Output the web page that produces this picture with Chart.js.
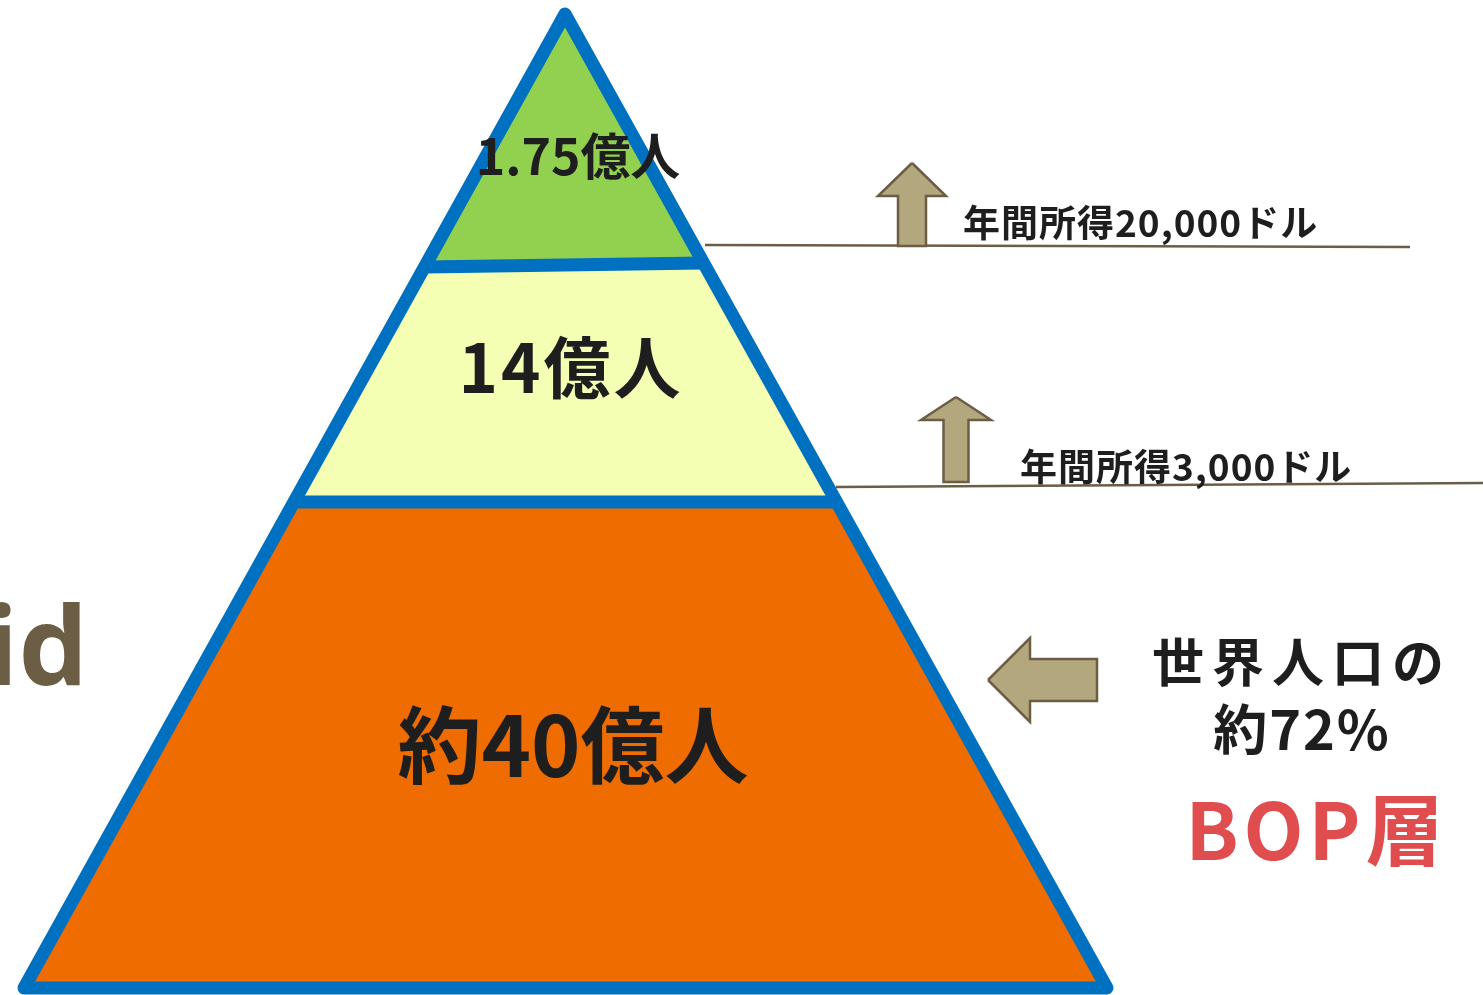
<!DOCTYPE html>
<html lang="ja">
<head>
<meta charset="utf-8">
<title>BOP pyramid</title>
<script src="https://cdn.jsdelivr.net/npm/chart.js@4.4.1/dist/chart.umd.min.js"></script>
<style>
  html, body { margin: 0; padding: 0; background: #ffffff; }
  #wrap { width: 1483px; height: 995px; position: relative; }
</style>
</head>
<body>
<div id="wrap"><canvas id="pyramid"></canvas></div>
<script>
// the data of the diagram
const tierNames = ['top', 'middle', 'bop'];
const tierPopulation = [1.75, 14, 40];            // 億人
const tierLabels = ['1.75億人', '14億人', '約40億人'];
const incomeLabels = ['年間所得20,000ドル', '年間所得3,000ドル'];
const shareLines = ['世界人口の', '約72%'];
const bopLabel = 'BOP層';
const sideTitle = 'id';

// layout of the pyramid, in page units (x right, y down)
const apex = { x: 565, y: 14 };
const base = { left: 24, right: 1107, y: 988 };
const dividers = [{ yl: 267, yr: 263 }, { yl: 502, yr: 502 }];

const BLUE = '#0070C0';
const tierColors = ['#92D050', '#F5FFB4', '#EE6C00'];
const ARROW_FILL = '#B3A77D';
const ARROW_LINE = '#6B5E45';
const TEXT = '#1E1E1E';

// x of the left / right edge of the pyramid at a given y
function edgeX(side, y) {
    const end = side === 'left' ? base.left : base.right;
    return apex.x + (end - apex.x) * (y - apex.y) / (base.y - apex.y);
}

const d1l = { x: edgeX('left', dividers[0].yl), y: dividers[0].yl };
const d1r = { x: edgeX('right', dividers[0].yr), y: dividers[0].yr };
const d2l = { x: edgeX('left', dividers[1].yl), y: dividers[1].yl };
const d2r = { x: edgeX('right', dividers[1].yr), y: dividers[1].yr };
const bl = { x: base.left, y: base.y };
const br = { x: base.right, y: base.y };

const tierShapes = [
    [apex, d1r, d1l, apex],
    [d1l, d1r, d2r, d2l, d1l],
    [d2l, d2r, br, bl, d2l]
];

function upArrow(cx, tipY, headY, bottomY, halfHead, halfShaft) {
    return [
        { x: cx, y: tipY }, { x: cx + halfHead, y: headY }, { x: cx + halfShaft, y: headY },
        { x: cx + halfShaft, y: bottomY }, { x: cx - halfShaft, y: bottomY },
        { x: cx - halfShaft, y: headY }, { x: cx - halfHead, y: headY }, { x: cx, y: tipY }
    ];
}
function leftArrow(tipX, cy, headX, endX, halfHead, halfShaft) {
    return [
        { x: tipX, y: cy }, { x: headX, y: cy - halfHead }, { x: headX, y: cy - halfShaft },
        { x: endX, y: cy - halfShaft }, { x: endX, y: cy + halfShaft },
        { x: headX, y: cy + halfShaft }, { x: headX, y: cy + halfHead }, { x: tipX, y: cy }
    ];
}

const arrows = [
    upArrow(912, 163, 196, 246, 34, 14),
    upArrow(956, 397, 420, 482, 35, 12.5),
    leftArrow(988, 680, 1030, 1097, 42, 21)
];
const incomeLines = [
    [{ x: 705, y: 245 }, { x: 1410, y: 247 }],
    [{ x: 836, y: 487 }, { x: 1483, y: 483 }]
];

// datasets: first in the list is drawn on top
const datasets = [];
const common = { pointRadius: 0, tension: 0, clip: false, parsing: false };

// outline, starting mid base so the closing point sits on a straight side
datasets.push(Object.assign({}, common, {
    label: 'outline',
    data: [{ x: (base.left + base.right) / 2, y: base.y }, br, apex, bl, { x: (base.left + base.right) / 2, y: base.y }],
    borderColor: BLUE, borderWidth: 13, borderJoinStyle: 'round', fill: false
}));
[[d1l, d1r], [d2l, d2r]].forEach((seg, i) => {
    datasets.push(Object.assign({}, common, {
        label: 'divider ' + i, data: seg, borderColor: BLUE, borderWidth: 13, fill: false
    }));
});
arrows.forEach((pts, i) => {
    datasets.push(Object.assign({}, common, {
        label: 'arrow ' + i, data: pts, borderColor: ARROW_LINE, borderWidth: 2.5,
        backgroundColor: ARROW_FILL, fill: 'shape', borderJoinStyle: 'miter'
    }));
});
incomeLines.forEach((seg, i) => {
    datasets.push(Object.assign({}, common, {
        label: 'income ' + i, data: seg, borderColor: ARROW_LINE, borderWidth: 2.5, fill: false
    }));
});
tierShapes.forEach((pts, i) => {
    datasets.push(Object.assign({}, common, {
        label: tierNames[i] + ' ' + tierPopulation[i], data: pts, borderWidth: 0,
        borderColor: tierColors[i], backgroundColor: tierColors[i], fill: 'shape'
    }));
});

// text labels, placed through the scales
const labelPlugin = {
    id: 'labels',
    afterDatasetsDraw(chart) {
        const ctx = chart.ctx;
        const sx = chart.scales.x, sy = chart.scales.y;
        function put(str, x, y, font, color, align, spacing) {
            ctx.save();
            ctx.font = font;
            ctx.fillStyle = color;
            ctx.textAlign = align || 'center';
            ctx.textBaseline = 'alphabetic';
            if ('letterSpacing' in ctx) ctx.letterSpacing = (spacing || 0) + 'px';
            ctx.fillText(str, sx.getPixelForValue(x), sy.getPixelForValue(y));
            ctx.restore();
        }
        const jp = '"Noto Sans CJK JP", "Noto Sans", sans-serif';
        put(tierLabels[0], 578, 175, 'bold 50px ' + jp, TEXT);
        put(tierLabels[1], 571, 393, 'bold 67px ' + jp, TEXT, 'center', 3);
        put(tierLabels[2], 573, 777, 'bold 84px ' + jp, TEXT);
        put(incomeLabels[0], 963, 237, 'bold 37px ' + jp, TEXT, 'left', 1);
        put(incomeLabels[1], 1020, 481, 'bold 37px ' + jp, TEXT, 'left', 1);
        put(shareLines[0], 1302, 682, 'bold 52px ' + jp, TEXT, 'center', 8);
        put(shareLines[1], 1302, 750, 'bold 54px ' + jp, TEXT, 'center', 2);
        put(bopLabel, 1317, 860, 'bold 78px ' + jp, '#DF4D4F', 'center', 5);
        put(sideTitle, 88, 685, 'bold 110px "Open Sans", sans-serif', '#6B5E45', 'right');
    }
};

new Chart(document.getElementById('pyramid'), {
    type: 'line',
    data: { datasets: datasets },
    options: {
        responsive: true,
        maintainAspectRatio: false,
        animation: false,
        events: [],
        layout: { padding: 0 },
        plugins: { legend: { display: false }, tooltip: { enabled: false } },
        scales: {
            x: { type: 'linear', min: 0, max: 1483, display: false },
            y: { type: 'linear', min: 0, max: 995, reverse: true, display: false }
        }
    },
    plugins: [labelPlugin]
});
</script>
</body>
</html>
